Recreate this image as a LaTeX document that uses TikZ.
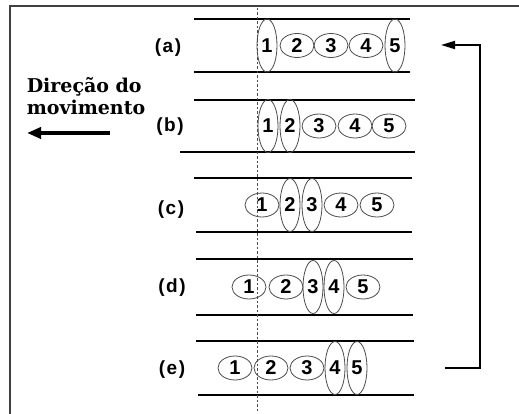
\documentclass[tikz,border=0pt]{standalone}
\usepackage{fontspec}
\setsansfont{Liberation Sans}
\newfontfamily\motionfont{DejaVu Serif}
\usepackage{tikz}
\usetikzlibrary{arrows.meta, positioning, shapes.geometric}
\colorlet{framegray}{black!75}
\colorlet{ringgray}{black!70}

\begin{document}
\begin{tikzpicture}[x=1pt, y=-1pt,
    seg/.style={ellipse, draw=ringgray, line width=0.8pt, inner sep=0pt, minimum width=34, minimum height=24, font=\sffamily\bfseries\fontsize{20}{20}\selectfont},
    squeezed/.style={seg, minimum width=20, minimum height=53},
    tube/.style={line width=2.2pt},
    rowlabel/.style={font=\sffamily\bfseries\fontsize{19}{19}\selectfont}]
    \useasboundingbox (0,0) rectangle (519,414);
    % frame
    \draw[framegray, line width=1.6pt] (10,414) -- (10,6) -- (519,6);

    % walls of the tube
    \draw[tube] (194,19) -- (410,19);  \draw[tube] (194,72) -- (410,72);
    \draw[tube] (194,100) -- (415,100); \draw[tube] (180,152) -- (415,152);
    \draw[tube] (194,178) -- (412,178); \draw[tube] (196,232) -- (412,232);
    \draw[tube] (196,259) -- (413,259); \draw[tube] (196,315) -- (413,315);
    \draw[tube] (196,341) -- (414,341); \draw[tube] (198,395) -- (414,395);

    % reference line
    \draw[black!70, line width=0.9pt, dash pattern=on 2.5pt off 2pt] (257,8) -- (257,412);

    % (a)
    \node[rowlabel] (la) at (168,48) {(\kern1.5pt a\kern1.5pt)};
    \node[squeezed] (a1) at (267,45.5) {1};
    \node[seg] (a2) at (297,45.5) {2};
    \node[seg] (a3) at (331,45.5) {3};
    \node[seg] (a4) at (366,45.5) {4};
    \node[squeezed] (a5) at (395,45.5) {5};

    % (b)
    \node[rowlabel] (lb) at (170,127) {(\kern1.5pt b\kern1.5pt)};
    \node[squeezed] (b1) at (268,126) {1};
    \node[squeezed] (b2) at (290,126) {2};
    \node[seg] (b3) at (319,126) {3};
    \node[seg] (b4) at (355,126) {4};
    \node[seg] (b5) at (389,126) {5};

    % (c)
    \node[rowlabel] (lc) at (171,210) {(\kern1.5pt c\kern1.5pt)};
    \node[seg] (c1) at (262,205) {1};
    \node[squeezed] (c2) at (290,205) {2};
    \node[squeezed] (c3) at (312,205) {3};
    \node[seg] (c4) at (341,205) {4};
    \node[seg] (c5) at (377,205) {5};

    % (d)
    \node[rowlabel] (ld) at (172,288) {(\kern1.5pt d\kern1.5pt)};
    \node[seg] (d1) at (249,287) {1};
    \node[seg] (d2) at (286,287) {2};
    \node[squeezed] (d3) at (313,287) {3};
    \node[squeezed] (d4) at (334,287) {4};
    \node[seg] (d5) at (363,287) {5};

    % (e)
    \node[rowlabel] (le) at (172,370) {(\kern1.5pt e\kern1.5pt)};
    \node[seg] (e1) at (235,368) {1};
    \node[seg] (e2) at (271,368) {2};
    \node[seg] (e3) at (307,368) {3};
    \node[squeezed] (e4) at (335,368) {4};
    \node[squeezed] (e5) at (357,368) {5};

    % direction of motion
    \node[align=left, font=\motionfont\bfseries\fontsize{19}{22}\selectfont] (dir) at (86,96) {Direção do\\movimento};
    \coordinate (dirtail) at (110,133);
    \coordinate (dirtip) at (27,133);
    \draw[-{Triangle[length=14pt,width=11pt]}, line width=4pt] (dirtail) -- (dirtip);

    % return arrow
    \coordinate (retfrom) at (445,368);
    \coordinate (retto) at (441,45);
    \draw[-{Triangle[length=14pt,width=8pt]}, line width=1.8pt] (retfrom) -- (480,368) -- (480,45) -- (retto);
\end{tikzpicture}
\end{document}
